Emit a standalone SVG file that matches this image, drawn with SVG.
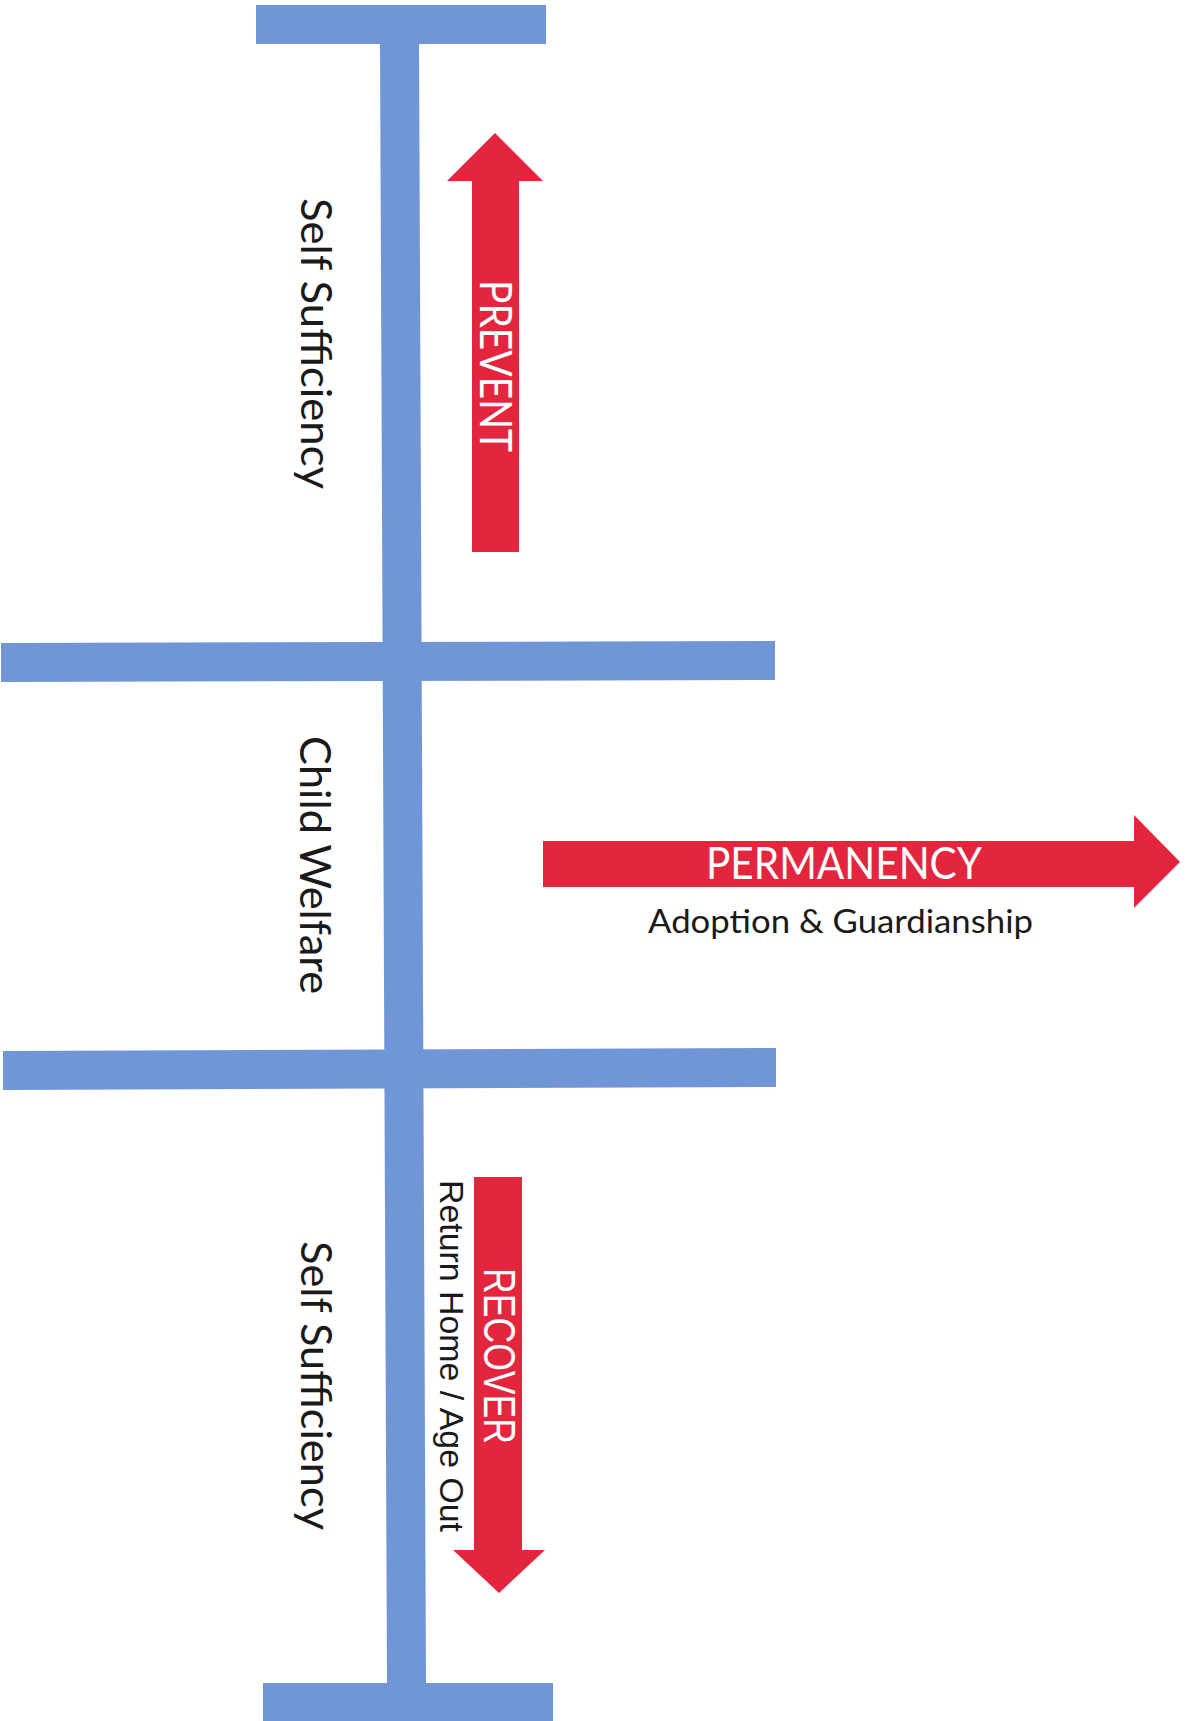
<svg xmlns="http://www.w3.org/2000/svg" width="1188" height="1721" viewBox="0 0 1188 1721">
<style>
.bar{fill:#7096D8}
.arrow{fill:#E3263E}
.lbl{font-family:Lato,"Open Sans","Liberation Sans",sans-serif;fill:#1a1a1a}
.wlbl{font-family:Lato,"Open Sans","Liberation Sans",sans-serif;fill:#ffffff}
.arial{font-family:"Liberation Sans",Arial,sans-serif;fill:#1a1a1a}
.narrow{font-family:"Liberation Sans Narrow","Liberation Sans",sans-serif;fill:#ffffff}
</style>
<rect width="1188" height="1721" fill="#ffffff"/>
<g id="connectors">
  <polygon class="bar" points="380,40 419,40 426,1686 387,1686"/>
  <rect class="bar" x="256" y="5" width="290" height="39"/>
  <rect class="bar" x="263" y="1683" width="290" height="38"/>
  <polygon class="bar" points="1,643 775,641 775,680 1,682"/>
  <polygon class="bar" points="3,1051 776,1048 776,1087 3,1090"/>
</g>
<g id="label-self-sufficiency-top">
  <text class="lbl" font-size="42" transform="translate(301,198) rotate(90)" textLength="291" lengthAdjust="spacingAndGlyphs">Self Sufficiency</text>
</g>
<g id="label-child-welfare">
  <text class="lbl" font-size="42" transform="translate(300,736) rotate(90)" textLength="258" lengthAdjust="spacingAndGlyphs">Child Welfare</text>
</g>
<g id="label-self-sufficiency-bottom">
  <text class="lbl" font-size="42" transform="translate(301,1241) rotate(90)" textLength="289" lengthAdjust="spacingAndGlyphs">Self Sufficiency</text>
</g>
<g id="arrow-prevent">
  <polygon class="arrow" points="472,552 472,181 447,181 495,133 543,181 519,181 519,552"/>
  <text class="wlbl" font-size="44" transform="translate(480,280) rotate(90)" textLength="172" lengthAdjust="spacingAndGlyphs">PREVENT</text>
</g>
<g id="arrow-permanency">
  <polygon class="arrow" points="543,841 1134,841 1134,815 1180,862 1134,908 1134,887 543,887"/>
  <text class="wlbl" font-size="44" x="706" y="879" textLength="276" lengthAdjust="spacingAndGlyphs">PERMANENCY</text>
  <text class="lbl" font-size="33" x="648" y="933" textLength="385" lengthAdjust="spacingAndGlyphs">Adoption &amp; Guardianship</text>
</g>
<g id="arrow-recover">
  <polygon class="arrow" points="474,1177 522,1177 522,1550 545,1550 499,1593 453,1550 474,1550"/>
  <text class="narrow" font-size="45" transform="translate(484,1268) rotate(90)" textLength="176" lengthAdjust="spacingAndGlyphs">RECOVER</text>
  <text class="arial" font-size="34" transform="translate(440,1180) rotate(90)" textLength="352" lengthAdjust="spacingAndGlyphs">Return Home / Age Out</text>
</g>
</svg>
